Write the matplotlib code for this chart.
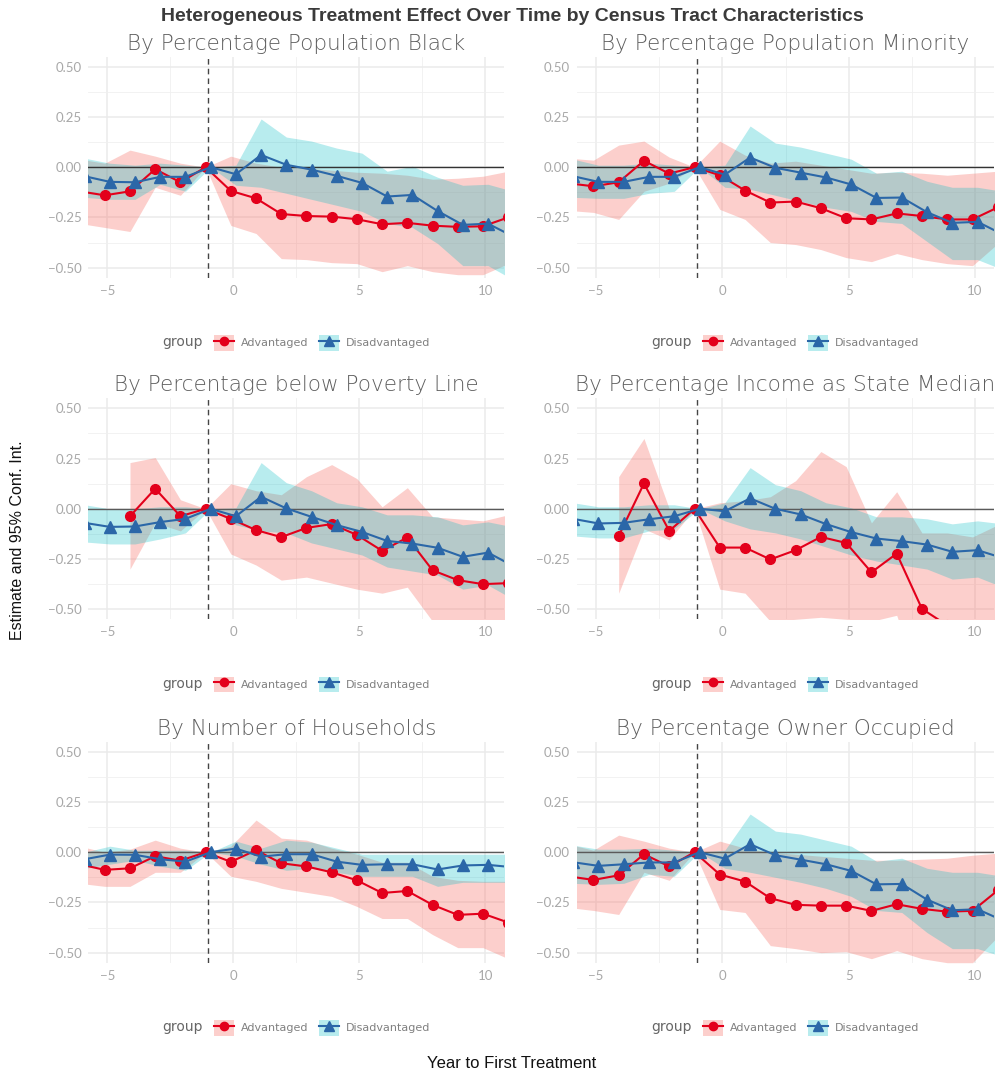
import matplotlib
matplotlib.use("Agg")
import matplotlib.pyplot as plt
import numpy as np
from matplotlib.patches import Patch
from matplotlib.lines import Line2D

years = list(range(-6, 12))

titles = [
    "By Percentage Population Black",
    "By Percentage Population Minority",
    "By Percentage below Poverty Line",
    "By Percentage Income as State Median",
    "By Number of Households",
    "By Percentage Owner Occupied",
]

# ---- Panel 1: Black ----
black_adv = [-0.12, -0.14, -0.12, -0.01, -0.075, 0.0, -0.118, -0.155, -0.233, -0.243, -0.246, -0.259, -0.284, -0.277, -0.291, -0.297, -0.294, -0.25]
black_adv_hi = [0.04, 0.02, 0.085, 0.055, 0.02, 0.0, 0.055, 0.02, 0.0, -0.005, -0.015, -0.025, -0.03, -0.04, -0.06, -0.055, -0.045, -0.02]
black_adv_lo = [-0.28, -0.30, -0.32, -0.10, -0.14, 0.0, -0.29, -0.33, -0.455, -0.46, -0.475, -0.48, -0.52, -0.49, -0.52, -0.535, -0.535, -0.48]
black_dis = [-0.045, -0.073, -0.075, -0.048, -0.048, 0.0, -0.035, 0.061, 0.012, -0.012, -0.043, -0.078, -0.146, -0.138, -0.218, -0.287, -0.281, -0.345]
black_dis_hi = [0.045, 0.02, 0.01, 0.02, 0.01, 0.0, 0.01, 0.24, 0.15, 0.13, 0.095, 0.07, -0.02, 0.005, -0.05, -0.09, -0.085, -0.12]
black_dis_lo = [-0.15, -0.16, -0.16, -0.085, -0.12, 0.0, -0.09, -0.10, -0.13, -0.16, -0.19, -0.22, -0.28, -0.30, -0.38, -0.49, -0.49, -0.56]

# ---- Panel 2: Minority ----
min_adv = [-0.08, -0.095, -0.075, 0.032, -0.032, 0.0, -0.04, -0.116, -0.176, -0.171, -0.204, -0.254, -0.26, -0.23, -0.243, -0.26, -0.26, -0.20]
min_adv_hi = [0.045, 0.035, 0.11, 0.13, 0.05, 0.0, 0.13, 0.06, 0.02, 0.03, 0.01, -0.01, -0.03, -0.025, -0.03, -0.04, -0.03, -0.02]
min_adv_lo = [-0.215, -0.225, -0.26, -0.12, -0.08, 0.0, -0.21, -0.26, -0.375, -0.385, -0.41, -0.45, -0.47, -0.43, -0.46, -0.48, -0.49, -0.38]
min_dis = [-0.045, -0.073, -0.073, -0.048, -0.048, 0.0, -0.037, 0.048, -0.003, -0.027, -0.051, -0.086, -0.153, -0.151, -0.224, -0.277, -0.272, -0.335]
min_dis_hi = [0.04, 0.01, 0.01, 0.02, 0.01, 0.0, 0.01, 0.205, 0.12, 0.10, 0.07, 0.04, -0.03, -0.02, -0.07, -0.10, -0.10, -0.12]
min_dis_lo = [-0.15, -0.155, -0.155, -0.13, -0.12, 0.0, -0.10, -0.11, -0.14, -0.17, -0.20, -0.22, -0.27, -0.28, -0.37, -0.46, -0.46, -0.51]

# ---- Panel 3: Poverty ----
pov_adv = [np.nan, np.nan, -0.037, 0.10, -0.037, 0.0, -0.05, -0.106, -0.141, -0.095, -0.076, -0.13, -0.209, -0.143, -0.306, -0.355, -0.375, -0.37]
pov_adv_hi = [np.nan, np.nan, 0.23, 0.255, 0.045, 0.0, 0.125, 0.09, 0.07, 0.16, 0.22, 0.15, 0.01, 0.105, -0.04, -0.05, -0.06, -0.03]
pov_adv_lo = [np.nan, np.nan, -0.30, -0.07, -0.11, 0.0, -0.225, -0.28, -0.355, -0.34, -0.37, -0.40, -0.42, -0.39, -0.56, -0.60, -0.65, -0.65]
pov_dis = [-0.07, -0.09, -0.088, -0.066, -0.05, 0.0, -0.037, 0.06, 0.002, -0.04, -0.081, -0.115, -0.16, -0.173, -0.194, -0.239, -0.218, -0.285]
pov_dis_hi = [0.02, 0.0, 0.0, 0.01, 0.01, 0.0, 0.005, 0.23, 0.13, 0.09, 0.03, 0.01, -0.03, -0.03, -0.04, -0.08, -0.065, -0.09]
pov_dis_lo = [-0.165, -0.175, -0.175, -0.15, -0.12, 0.0, -0.08, -0.11, -0.12, -0.17, -0.20, -0.23, -0.29, -0.31, -0.33, -0.40, -0.38, -0.45]

# ---- Panel 4: Income ----
inc_adv = [np.nan, np.nan, -0.135, 0.126, -0.11, 0.0, -0.193, -0.193, -0.252, -0.206, -0.14, -0.17, -0.316, -0.223, -0.498, -0.58, -0.65, -0.70]
inc_adv_hi = [np.nan, np.nan, 0.16, 0.35, 0.0, 0.0, 0.03, 0.04, 0.06, 0.14, 0.285, 0.21, -0.07, 0.085, -0.12, -0.12, -0.14, -0.08]
inc_adv_lo = [np.nan, np.nan, -0.42, -0.10, -0.155, 0.0, -0.40, -0.42, -0.56, -0.55, -0.54, -0.55, -0.56, -0.53, -0.90, -1.0, -1.1, -1.2]
inc_dis = [-0.05, -0.073, -0.07, -0.052, -0.037, 0.0, -0.012, 0.052, 0.0, -0.028, -0.076, -0.116, -0.148, -0.161, -0.178, -0.214, -0.206, -0.245]
inc_dis_hi = [0.03, 0.01, 0.01, 0.02, 0.02, 0.0, 0.03, 0.205, 0.12, 0.09, 0.03, 0.005, -0.04, -0.04, -0.05, -0.075, -0.06, -0.075]
inc_dis_lo = [-0.135, -0.145, -0.145, -0.11, -0.10, 0.0, -0.06, -0.10, -0.12, -0.15, -0.19, -0.23, -0.26, -0.28, -0.30, -0.35, -0.34, -0.39]

# ---- Panel 5: Households ----
hh_adv = [-0.06, -0.088, -0.08, -0.02, -0.042, 0.0, -0.048, 0.01, -0.055, -0.071, -0.10, -0.14, -0.203, -0.193, -0.262, -0.312, -0.306, -0.35]
hh_adv_hi = [0.03, 0.0, 0.015, 0.06, 0.02, 0.0, 0.03, 0.16, 0.07, 0.06, 0.02, -0.01, -0.05, -0.05, -0.12, -0.14, -0.145, -0.145]
hh_adv_lo = [-0.155, -0.17, -0.17, -0.10, -0.10, 0.0, -0.12, -0.145, -0.18, -0.20, -0.22, -0.27, -0.33, -0.33, -0.41, -0.475, -0.475, -0.53]
hh_dis = [-0.035, -0.012, -0.013, -0.035, -0.047, 0.0, 0.018, -0.022, -0.01, -0.01, -0.047, -0.063, -0.06, -0.06, -0.086, -0.066, -0.063, -0.075]
hh_dis_hi = [0.0, 0.03, 0.01, 0.01, 0.01, 0.0, 0.055, 0.02, 0.06, 0.05, 0.02, -0.01, -0.01, -0.01, -0.01, -0.01, -0.01, -0.01]
hh_dis_lo = [-0.08, -0.06, -0.04, -0.07, -0.09, 0.0, -0.02, -0.06, -0.09, -0.08, -0.10, -0.12, -0.12, -0.12, -0.17, -0.15, -0.15, -0.15]

# ---- Panel 6: Owner occupied ----
own_adv = [-0.12, -0.138, -0.115, -0.01, -0.071, 0.0, -0.111, -0.146, -0.229, -0.262, -0.266, -0.266, -0.292, -0.259, -0.282, -0.296, -0.292, -0.19]
own_adv_hi = [0.04, 0.01, 0.085, 0.055, 0.02, 0.0, 0.055, 0.02, 0.0, -0.01, -0.02, -0.03, -0.04, -0.04, -0.035, -0.03, -0.015, -0.005]
own_adv_lo = [-0.275, -0.29, -0.31, -0.10, -0.14, 0.0, -0.285, -0.30, -0.465, -0.48, -0.50, -0.495, -0.53, -0.49, -0.53, -0.55, -0.55, -0.42]
own_dis = [-0.05, -0.068, -0.06, -0.051, -0.051, 0.0, -0.032, 0.04, -0.015, -0.037, -0.06, -0.093, -0.16, -0.158, -0.236, -0.289, -0.284, -0.34]
own_dis_hi = [0.035, 0.015, 0.015, 0.02, 0.01, 0.0, 0.01, 0.19, 0.105, 0.09, 0.06, 0.03, -0.045, -0.03, -0.08, -0.10, -0.10, -0.12]
own_dis_lo = [-0.155, -0.16, -0.155, -0.11, -0.12, 0.0, -0.08, -0.10, -0.125, -0.15, -0.18, -0.22, -0.29, -0.30, -0.40, -0.48, -0.48, -0.52]

panels = [
    (black_adv, black_adv_lo, black_adv_hi, black_dis, black_dis_lo, black_dis_hi),
    (min_adv, min_adv_lo, min_adv_hi, min_dis, min_dis_lo, min_dis_hi),
    (pov_adv, pov_adv_lo, pov_adv_hi, pov_dis, pov_dis_lo, pov_dis_hi),
    (inc_adv, inc_adv_lo, inc_adv_hi, inc_dis, inc_dis_lo, inc_dis_hi),
    (hh_adv, hh_adv_lo, hh_adv_hi, hh_dis, hh_dis_lo, hh_dis_hi),
    (own_adv, own_adv_lo, own_adv_hi, own_dis, own_dis_lo, own_dis_hi),
]

group_labels = ["Advantaged", "Disadvantaged"]
x_ticks = [-5, 0, 5, 10]
y_ticks = [-0.5, -0.25, 0.0, 0.25, 0.5]
y_tick_labels = ["\u22120.50", "\u22120.25", "0.00", "0.25", "0.50"]
x_tick_labels = ["\u22125", "0", "5", "10"]

RED = "#E3001B"
BLUE = "#2B67A8"
RED_FILL = "#F8766D"
TEAL_FILL = "#00BCC4"
THIN_FONT = ["DejaVu Sans"]
TICK_FONT = ["Lato", "DejaVu Sans"]

W, H = 998, 1074
fig = plt.figure(figsize=(W / 100, H / 100), dpi=100)

col_left = [88.4 / W, 577 / W]
col_w = [416 / W, 417 / W]
row_top_px = [56.7, 398.3, 741.7]
row_h_px = 221

dodge = 0.1
xs = np.array(years, dtype=float)

for i, (adv, adv_lo, adv_hi, dis, dis_lo, dis_hi) in enumerate(panels):
    r, c = divmod(i, 2)
    bottom = 1 - (row_top_px[r] + row_h_px) / H
    ax = fig.add_axes([col_left[c], bottom, col_w[c], row_h_px / H])
    ax.set_xlim(-5.75, 10.75)
    ax.set_ylim(-0.55, 0.55)
    for s in ax.spines.values():
        s.set_visible(False)
    ax.set_xticks(x_ticks)
    ax.set_xticklabels(x_tick_labels)
    ax.set_yticks(y_ticks)
    ax.set_yticklabels(y_tick_labels)
    ax.set_xticks([-2.5, 2.5, 7.5], minor=True)
    ax.set_yticks([-0.375, -0.125, 0.125, 0.375], minor=True)
    ax.tick_params(which="both", length=0, labelsize=9.5, labelcolor="#a8a8a8", pad=5)
    for lab in ax.get_xticklabels() + ax.get_yticklabels():
        lab.set_family(TICK_FONT)
    ax.grid(which="major", color="#ebebeb", lw=1.1)
    ax.grid(which="minor", color="#f0f0f0", lw=0.6)
    ax.set_axisbelow(True)

    a = np.array(adv, dtype=float)
    al = np.array(adv_lo, dtype=float)
    ah = np.array(adv_hi, dtype=float)
    d = np.array(dis, dtype=float)
    dl = np.array(dis_lo, dtype=float)
    dh = np.array(dis_hi, dtype=float)
    ma = ~np.isnan(a)

    ax.fill_between(xs[ma] - dodge, al[ma], ah[ma], color=RED_FILL, alpha=0.35, lw=0, zorder=1)
    ax.fill_between(xs + dodge, dl, dh, color=TEAL_FILL, alpha=0.28, lw=0, zorder=1)
    ax.axhline(0, color="#333333" if r == 0 else "#5a5a5a", lw=1.0, zorder=2)
    ax.axvline(-1, color="#444444", lw=1.0, ls=(0, (4, 3)), zorder=2)
    ax.plot(xs[ma] - dodge, a[ma], color=RED, lw=1.5, marker="o", ms=7, zorder=3)
    ax.plot(xs + dodge, d, color=BLUE, lw=1.5, marker="^", ms=8, zorder=4)

    ax.set_title(titles[i], family=THIN_FONT, fontweight="light", fontsize=15.5,
                 color="#5e5e5e", pad=5)

    handles = [
        (Patch(facecolor=RED_FILL, alpha=0.35, lw=0), Line2D([], [], color=RED, lw=1.5, marker="o", ms=6)),
        (Patch(facecolor=TEAL_FILL, alpha=0.28, lw=0), Line2D([], [], color=BLUE, lw=1.5, marker="^", ms=7)),
    ]
    leg = ax.legend(handles, group_labels, ncol=2, loc="center",
                    bbox_to_anchor=(0.5, -0.295), frameon=False, title="group",
                    prop={"family": THIN_FONT, "size": 8}, handlelength=1.8,
                    handleheight=1.8, handletextpad=0.6, columnspacing=1.0)
    for t in leg.get_texts():
        t.set_color("#808080")
    leg.get_title().set_color("#666666")
    leg.get_title().set_family(THIN_FONT)
    leg.get_title().set_fontsize(10)
    # put the title to the left of the entries
    box = leg.get_children()[0]
    kids = box.get_children()
    title_box, handle_box = kids[0], kids[1]
    box._children = [handle_box]
    handle_box._children = [title_box] + handle_box.get_children()
    handle_box.sep = 8

fig.text(0.513, 0.985, "Heterogeneous Treatment Effect Over Time by Census Tract Characteristics",
         ha="center", va="center", family=["Liberation Sans", "DejaVu Sans"],
         fontweight="bold", fontsize=14, color="#3a3a3a")
fig.text(0.018, 0.497, "Estimate and 95% Conf. Int.", rotation=90, ha="center", va="center",
         family=["Liberation Sans", "DejaVu Sans"], fontsize=11.5, color="#111111")
fig.text(0.513, 0.010, "Year to First Treatment", ha="center", va="center",
         family=["Liberation Sans", "DejaVu Sans"], fontsize=12, color="#111111")

fig.savefig("out.png", dpi=100)
